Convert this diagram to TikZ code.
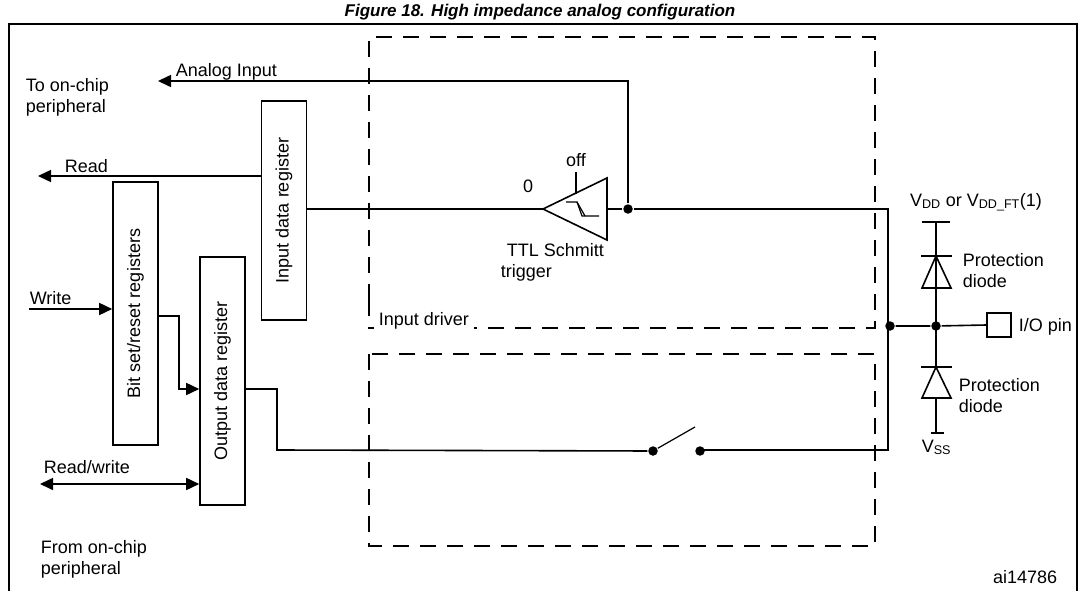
\documentclass[tikz,border=0pt]{standalone}
\usepackage{fontspec}
\setmainfont{Liberation Sans}
\usetikzlibrary{arrows.meta}
\begin{document}
\begin{tikzpicture}[x=1pt,y=-1pt,line width=1.6pt,
  lbl/.style={font=\fontsize{18}{21}\selectfont,inner sep=0pt},
  reg/.style={draw,minimum width=45pt,inner sep=0pt},
  dsh/.style={dash pattern=on 16pt off 11pt,line width=1.6pt},
  arr/.style={-{Triangle[length=13pt,width=12pt]}},
  dot/.style={circle,fill,inner sep=0pt,minimum size=9.5pt}]
\useasboundingbox (0,0) rectangle (1079,591);
\clip (0,0) rectangle (1079,591);
\node[anchor=base,font=\fontsize{17}{20}\selectfont\bfseries\itshape,inner sep=0pt] (title) at (540,17) {Figure 18. High impedance analog configuration};
\draw (9,591) -- (9,24) -- (1077,24) -- (1077,591);
% dashed boxes
\draw[dsh] (369,300) -- (369,37) -- (875,37) -- (875,328) -- (474,328);
\draw[dsh] (369,300) -- (369,328) -- (374,328);
\draw[dsh] (369,354) rectangle (875,546);
\node[lbl,anchor=base west] (drv) at (378,325) {Input driver};
% registers
\node[reg,minimum height=219pt] (idr) at (284,210.5) {};
\node[lbl,rotate=90] at (idr.center) {Input data register};
\node[reg,minimum height=263pt] (bsr) at (135.5,313.5) {};
\node[lbl,rotate=90] at (bsr.center) {Bit set/reset registers};
\node[reg,minimum height=248pt] (odr) at (222.5,381) {};
\node[lbl,rotate=90] at (odr.center) {Output data register};
% external labels
\node[lbl,anchor=base west] (ai) at (175,77) {Analog Input};
\node[lbl,anchor=north west,align=left] (toc) at (25,78) {To on-chip\\peripheral};
\node[lbl,anchor=base west] (rd) at (64,172) {Read};
\node[lbl,anchor=base west] (wr) at (29,304) {Write};
\node[lbl,anchor=base west] (rw) at (43,473) {Read/write};
\node[lbl,anchor=north west,align=left] (fromc) at (40,540) {From on-chip\\peripheral};
\node[lbl,anchor=base east] (ai2) at (1058,583) {ai14786};
% arrows
\coordinate (rdend) at (38,176);
\coordinate (wrst) at (29,309);
\coordinate (rwend) at (40,484);
\coordinate (aiend) at (158,81);
\draw[arr] (idr.west |- 0,176) -- (rdend);
\draw[arr] (wrst) -- (bsr.west |- 0,309);
\draw[arr] (bsr.east |- 0,316) -- (179,316) -- (179,389) -- (odr.west |- 0,389);
\draw[{Triangle[length=13pt,width=12pt]}-{Triangle[length=13pt,width=12pt]}] (rwend) -- (odr.west |- 0,484);
% schmitt trigger
\coordinate (tip) at (543,209);
\draw (tip) -- (607,178) -- (607,240) -- cycle;
\draw (576,172) -- (576,194);
\draw[line width=1.2pt] (566,202) -- (577,202) -- (582,216) -- (599,216);
\draw[line width=1.2pt] (577,202) -- (585,216);
\node[lbl,anchor=base] (off) at (576,167) {off};
\node[lbl,anchor=base] (zero) at (528,193) {0};
\node[lbl,anchor=north west,align=left] (ttl) at (500,243) {\hspace*{6pt}TTL Schmitt\\trigger};
\node[dot] (d1) at (628,209) {};
\draw (idr.east |- 0,209) -- (tip);
\draw (607,209) -- (d1) -- (888,209) -- (888,450) -- (700,450);
\draw[arr] (d1) -- (628,81) -- (aiend);
% switch
\node[dot] (s1) at (653,451) {};
\node[dot] (s2) at (700,451) {};
\draw (odr.east |- 0,389) -- (277,389) -- (277,450) -- (s1);
\draw[line width=1.2pt] (s1) -- (695,427);
% diodes
\node[dot] (d2) at (890,326) {};
\node[dot] (d3) at (936,326) {};
\node[draw,minimum size=24pt,inner sep=0pt] (pin) at (999,325) {};
\draw (d2) -- (d3) -- (pin.west);
\draw (936,222) -- (936,433);
\draw (922,222) -- (950,222);
\draw (921,256) -- (952,256);
\draw (936,256) -- (922,288) -- (951,288) -- cycle;
\draw (921,367) -- (952,367);
\draw[fill=white] (936,367) -- (922,398) -- (951,398) -- cycle;
\draw (931,433) -- (944,433);
\node[lbl,anchor=base west] (pinl) at (1018,331) {I/O pin};
\node[lbl,anchor=north west,align=left] (pd1) at (962,253) {Protection\\diode};
\node[lbl,anchor=north west,align=left] (pd2) at (958,378) {Protection\\diode};
\node[lbl,anchor=base] (vdd) at (976,206) {V\textsubscript{DD} or V\textsubscript{DD\_FT}(1)};
\node[lbl,anchor=base west] (vss) at (921,452) {V\textsubscript{SS}};
\end{tikzpicture}
\end{document}
